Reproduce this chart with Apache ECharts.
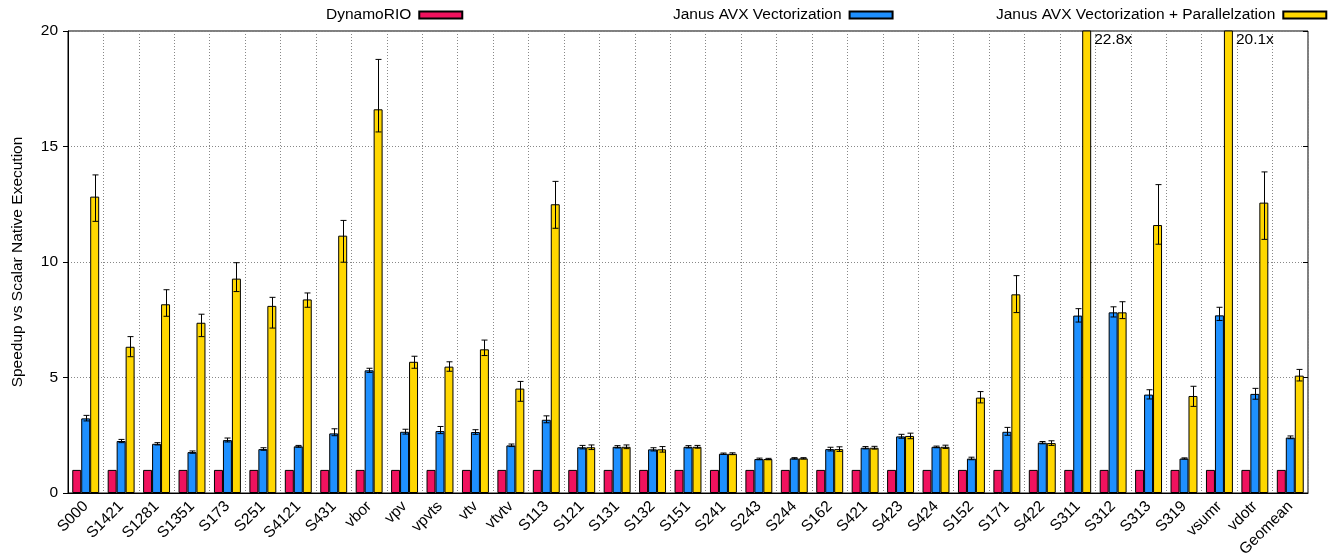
<!DOCTYPE html>
<html>
<head>
<meta charset="utf-8">
<script src="https://cdn.jsdelivr.net/npm/echarts@6/dist/echarts.min.js"></script>
<style>
  html, body { margin: 0; padding: 0; background: #fff; }
  #main { width: 1330px; height: 560px; }
</style>
</head>
<body>
<div id="main"></div>
<script>
// speedup per benchmark
const categories = ['S000','S1421','S1281','S1351','S173','S251','S4121','S431','vbor','vpv','vpvts','vtv','vtvtv','S113','S121','S131','S132','S151','S241','S243','S244','S162','S421','S423','S424','S152','S171','S422','S311','S312','S313','S319','vsumr','vdotr','Geomean'];

const dynamo = [1,1,1,1,1,1,1,1,1,1,1,1,1,1,1,1,1,1,1,1,1,1,1,1,1,1,1,1,1,1,1,1,1,1,1];

const avx     = [3.23,2.25,2.13,1.77,2.29,1.90,2.02,2.58,5.31,2.65,2.68,2.64,2.06,3.17,1.98,2.00,1.89,2.00,1.70,1.47,1.50,1.90,1.96,2.45,2.00,1.49,2.65,2.18,7.68,7.82,4.26,1.49,7.69,4.29,2.40];
const avxLow  = [3.12,2.18,2.08,1.72,2.21,1.85,1.98,2.48,5.22,2.55,2.57,2.54,2.01,3.04,1.91,1.95,1.82,1.95,1.67,1.44,1.47,1.82,1.91,2.37,1.96,1.44,2.50,2.13,7.40,7.62,4.07,1.47,7.47,4.06,2.35];
const avxHigh = [3.36,2.32,2.18,1.82,2.38,1.96,2.06,2.78,5.40,2.76,2.88,2.74,2.12,3.34,2.06,2.05,1.96,2.05,1.73,1.51,1.53,1.98,2.01,2.54,2.03,1.55,2.84,2.23,7.98,8.06,4.47,1.52,8.04,4.53,2.47];

const par     = [12.83,6.33,8.17,7.37,9.28,8.10,8.38,11.14,16.61,5.68,5.47,6.22,4.52,12.50,1.98,2.00,1.89,2.00,1.70,1.47,1.50,1.90,1.96,2.47,2.00,4.13,8.60,2.16,22.8,7.82,11.60,4.20,20.1,12.57,5.08];
const parLow  = [11.76,5.90,7.65,6.77,8.72,7.14,8.04,9.99,15.63,5.40,5.27,5.95,3.97,11.46,1.88,1.92,1.77,1.94,1.66,1.44,1.47,1.80,1.90,2.35,1.93,3.90,7.81,2.06,null,7.55,10.77,3.75,null,10.98,4.85];
const parHigh = [13.77,6.77,8.80,7.74,9.97,8.47,8.66,11.80,18.77,5.92,5.68,6.62,4.83,13.49,2.08,2.08,2.01,2.06,1.74,1.50,1.53,2.00,2.02,2.59,2.07,4.39,9.41,2.26,null,8.28,13.35,4.62,null,13.90,5.35];

const yTicks = [0, 5, 10, 15, 20];

const FONT = 'Liberation Sans';
const FS = 15.5;
const GAP = 0.24; // barCategoryGap

let chart = echarts.init(document.getElementById('main'));

function errData(low, high) {
    const out = [];
    low.forEach((lo, i) => {
        if (lo != null && high[i] != null) out.push([i, lo, high[i]]);
    });
    return out;
}

function errRender(slot) {
    return function (params, api) {
        const i = api.value(0);
        const lo = api.coord([i, api.value(1)]);
        const hi = api.coord([i, api.value(2)]);
        const band = api.size([1, 0])[0];
        const bw = band * (1 - GAP) / 3;
        const x = Math.round(lo[0] + slot * bw) + 0.5;
        const cap = 3;
        const style = { stroke: '#000', lineWidth: 1 };
        return {
            type: 'group',
            children: [
                { type: 'line', shape: { x1: x, y1: hi[1], x2: x, y2: lo[1] }, style: style },
                { type: 'line', shape: { x1: x - cap, y1: hi[1], x2: x + cap, y2: hi[1] }, style: style },
                { type: 'line', shape: { x1: x - cap, y1: lo[1], x2: x + cap, y2: lo[1] }, style: style }
            ]
        };
    };
}

const barBase = {
    type: 'bar',
    barGap: '0%',
    barCategoryGap: (GAP * 100) + '%',
    itemStyle: { borderColor: '#000', borderWidth: 1 },
    emphasis: { disabled: true }
};

const legendBase = {
    top: 2,
    align: 'right',
    icon: 'rect',
    itemWidth: 43,
    itemHeight: 7,
    textStyle: { fontFamily: FONT, fontSize: FS, color: '#000', padding: [0, 3, 0, 0] }
};

chart.setOption({
    animation: false,
    textStyle: { fontFamily: FONT },
    legend: [
        Object.assign({}, legendBase, { left: 321, data: ['DynamoRIO'] }),
        Object.assign({}, legendBase, { left: 668, data: ['Janus AVX Vectorization'] }),
        Object.assign({}, legendBase, { left: 991, data: ['Janus AVX Vectorization + Parallelzation'] })
    ],
    grid: {
        left: 68, right: 22, top: 31, bottom: 67,
        show: true, borderColor: '#000', borderWidth: 1
    },
    xAxis: {
        type: 'category',
        data: categories,
        axisLine: { lineStyle: { color: '#000' } },
        axisTick: { alignWithLabel: true, length: 5, lineStyle: { color: '#555' } },
        axisLabel: { rotate: 45, fontSize: FS, color: '#000', margin: 11, fontFamily: FONT },
        splitLine: { show: true, lineStyle: { color: '#888', type: [1, 2] } }
    },
    yAxis: [{
        type: 'value',
        min: yTicks[0], max: yTicks[yTicks.length - 1], interval: 5,
        name: 'Speedup vs Scalar Native Execution',
        nameLocation: 'middle',
        nameGap: 42,
        nameTextStyle: { fontSize: FS, color: '#000', fontFamily: FONT },
        axisLine: { show: true, lineStyle: { color: '#000' } },
        axisTick: { show: true, length: 5, lineStyle: { color: '#000' } },
        axisLabel: { fontSize: FS, color: '#000', margin: 10, fontFamily: FONT },
        splitLine: { show: true, lineStyle: { color: '#888', type: [1, 2] } }
    }, {
        type: 'value',
        position: 'right',
        min: yTicks[0], max: yTicks[yTicks.length - 1], interval: 5,
        axisLine: { show: false },
        axisTick: { show: true, inside: true, length: 5, lineStyle: { color: '#000' } },
        axisLabel: { show: false },
        splitLine: { show: false }
    }],
    series: [
        Object.assign({}, barBase, { name: 'DynamoRIO', data: dynamo, itemStyle: Object.assign({}, barBase.itemStyle, { color: '#f0125e' }) }),
        Object.assign({}, barBase, { name: 'Janus AVX Vectorization', data: avx, itemStyle: Object.assign({}, barBase.itemStyle, { color: '#1e90ff' }) }),
        Object.assign({}, barBase, {
            name: 'Janus AVX Vectorization + Parallelzation',
            data: par,
            itemStyle: Object.assign({}, barBase.itemStyle, { color: '#ffd700' }),
            label: {
                show: true,
                position: ['100%', 0],
                offset: [3, 1],
                fontSize: FS,
                color: '#000',
                fontFamily: FONT,
                formatter: p => p.value > yTicks[yTicks.length - 1] ? p.value + 'x' : ''
            }
        }),
        {
            type: 'custom',
            renderItem: errRender(0),
            data: errData(avxLow, avxHigh),
            encode: { x: 0, y: [1, 2] },
            z: 5,
            clip: true,
            silent: true
        },
        {
            type: 'custom',
            renderItem: errRender(1),
            data: errData(parLow, parHigh),
            encode: { x: 0, y: [1, 2] },
            z: 5,
            clip: true,
            silent: true
        }
    ]
});
</script>
</body>
</html>
